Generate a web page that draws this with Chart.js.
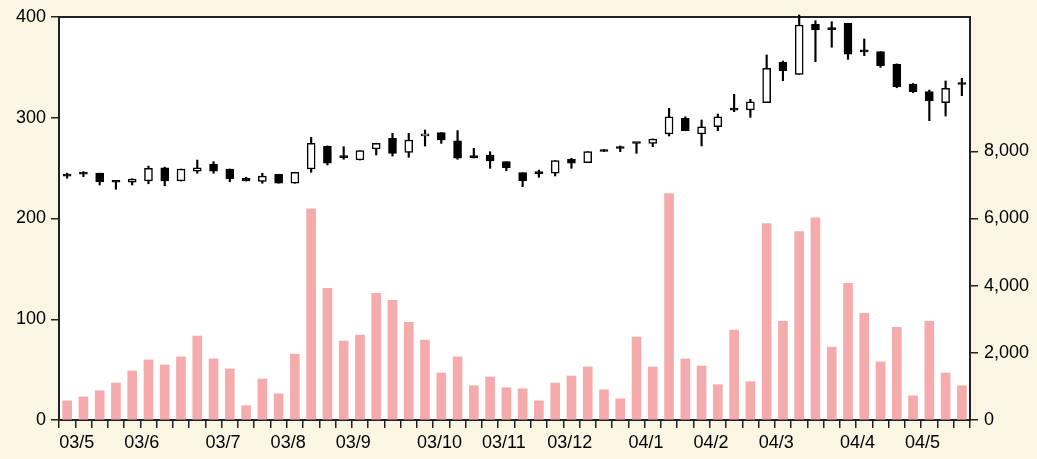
<!DOCTYPE html>
<html>
<head>
<meta charset="utf-8">
<script src="https://cdn.jsdelivr.net/npm/chart.js@4.4.1/dist/chart.umd.min.js"></script>
<style>
html, body { margin: 0; padding: 0; background: #faf6e3; }
#wrap { width: 1037px; height: 459px; }
</style>
</head>
<body>
<div id="wrap"><canvas id="myChart"></canvas></div>
<script>
// weekly candles, one per slot
let opens  = [242, 244, 245, 237, 236, 237.2, 250.4, 237.2, 247.1, 253.8, 249.1, 239.9, 236.9, 243.9, 235, 249.1,
              272, 261, 258.1, 269, 279.6, 265.7, 282, 285.2, 277.2, 261, 263, 256.4, 245.5, 244.5, 244.9, 258.8,
              255.4, 268.5, 269.5, 274.8, 274.6, 283.9, 299.4, 283.9, 291.1, 308, 307.7, 315, 355, 343.1,
              392.7, 388, 393.7, 365.8, 365.6, 353.1, 333.5, 325.9, 315, 333];
let highs  = [245, 246.5, 245, 237, 239.5, 252, 251, 249.1, 258, 256.4, 249.1, 240.9, 244.9, 243.9, 245.9, 280.6,
              272, 271.3, 267.3, 274.6, 284.6, 284.6, 287.8, 285.2, 287.2, 269.7, 266.3, 256.4, 245.5, 248.1, 257.4, 259.8,
              266.3, 268.5, 272, 275, 279, 309.4, 301, 297.8, 303.7, 323.3, 318.3, 362.3, 356.3, 402,
              396.3, 395.3, 393.7, 378.2, 365.6, 353.5, 334, 327.5, 336.5, 339.2];
let lows   = [240, 241.5, 233.3, 229, 233.3, 234.5, 232.5, 237.2, 244.9, 244.9, 236.5, 237.2, 235, 235, 235, 245.9,
              253.1, 258.8, 258.1, 263, 262, 260.7, 271.9, 274.6, 258.8, 260, 249.8, 247.4, 231.6, 240.9, 242.2, 249.8,
              255.4, 266.5, 266.3, 264.7, 271.3, 281.9, 287.1, 272, 287.1, 306, 300.4, 315, 336.8, 343.1,
              355.6, 370, 358, 361.6, 350, 329.8, 325, 297.1, 301.7, 321.9];
let closes = [243, 244.5, 236.5, 236, 239.2, 249.8, 237.2, 249.1, 250.4, 247.1, 239.2, 237.2, 242.2, 235, 245.9, 274.6,
              254.8, 260.5, 267.3, 274.6, 264.7, 277.9, 284, 277.9, 259.8, 260.5, 257.1, 250.4, 237.5, 245, 257.4, 254.8,
              266.3, 266.5, 270, 274.4, 278.9, 301, 287.1, 291.1, 301, 307.5, 315.9, 349, 346.7, 392,
              387.1, 387.5, 363, 365.4, 351.6, 330.8, 325.9, 316.9, 329.2, 334.5];
let volumes = [570, 690, 870, 1100, 1460, 1790, 1640, 1880, 2500, 1820, 1520, 425, 1220, 780, 1960, 6290,
               3920, 2350, 2530, 3770, 3560, 2910, 2380, 1400, 1880, 1020, 1280, 960, 930, 570, 1100, 1310,
               1580, 900, 630, 2470, 1580, 6740, 1820, 1610, 1050, 2680, 1140, 5850, 2940, 5610,
               6020, 2170, 4070, 3180, 1730, 2760, 720, 2940, 1400, 1020];
let monthLabels = ['03/5', '03/6', '03/7', '03/8', '03/9', '03/10', '03/11', '03/12', '04/1', '04/2', '04/3', '04/4', '04/5'];
let monthStart  = [0, 4, 9, 13, 17, 22, 26, 30, 35, 39, 43, 48, 52];

let categories = opens.map((o, i) => {
    let k = monthStart.indexOf(i);
    return k >= 0 ? monthLabels[k] : '';
});

let wicks = lows.map((l, i) => [l, highs[i]]);
let bodies = opens.map((o, i) => [o, closes[i]]);
// up = white, down = black, near-doji drawn as a plain black dash
let bodyColors = opens.map((o, i) => {
    if (Math.abs(closes[i] - o) <= 1.5) return '#000000';
    return closes[i] > o ? '#ffffff' : '#000000';
});

const frame = {
    id: 'frame',
    beforeDraw(chart) {
        let a = chart.chartArea, c = chart.ctx;
        c.save();
        c.fillStyle = '#ffffff';
        c.fillRect(a.left, a.top, a.right - a.left, a.bottom - a.top);
        c.restore();
    },
    beforeDatasetsDraw(chart) {
        let a = chart.chartArea, c = chart.ctx;
        c.save();
        c.strokeStyle = '#222';
        c.lineWidth = 2;
        c.strokeRect(a.left, a.top, a.right - a.left, a.bottom - a.top);
        c.restore();
    }
};

const font = { family: "'Liberation Sans', Arial, sans-serif", size: 18 };

var ctx = document.getElementById('myChart').getContext('2d');
var myChart = new Chart(ctx, {
    type: 'bar',
    data: {
        labels: categories,
        datasets: [{
            data: bodies,
            yAxisID: 'y',
            backgroundColor: bodyColors,
            borderColor: '#000',
            borderWidth: 1.5,
            borderSkipped: false,
            barThickness: 8,
            minBarLength: 2,
            grouped: false
        }, {
            data: wicks,
            yAxisID: 'y',
            backgroundColor: '#000',
            barThickness: 1.5,
            grouped: false,
            clip: false
        }, {
            data: volumes,
            yAxisID: 'y2',
            backgroundColor: '#f5abab',
            barThickness: 9,
            grouped: false
        }]
    },
    options: {
        responsive: true,
        maintainAspectRatio: false,
        animation: false,
        layout: { padding: { top: 17, left: 0, right: 0, bottom: 0 } },
        plugins: { legend: { display: false }, tooltip: { enabled: false } },
        scales: {
            x: {
                afterFit: s => { s.height = 39; },
                border: { display: false },
                grid: { offset: true, drawOnChartArea: false, color: '#222', lineWidth: 1.5, tickLength: 8 },
                ticks: {
                    autoSkip: false, maxRotation: 0, minRotation: 0,
                    align: 'start', labelOffset: -8, padding: 4,
                    color: '#000', font: font
                }
            },
            y: {
                position: 'left',
                min: 0, max: 400,
                afterFit: s => { s.width = 59; },
                border: { display: false },
                grid: { drawOnChartArea: false, color: '#222', lineWidth: 1.5, tickLength: 8 },
                ticks: { stepSize: 100, padding: 5, color: '#000', font: font }
            },
            y2: {
                position: 'right',
                min: 0, max: 12000,
                afterFit: s => { s.width = 67; },
                afterBuildTicks: s => { s.ticks = s.ticks.filter(t => t.value <= 8000); },
                border: { display: false },
                grid: { drawOnChartArea: false, color: '#222', lineWidth: 1.5, tickLength: 8 },
                ticks: { stepSize: 2000, padding: 6, color: '#000', font: font }
            }
        }
    },
    plugins: [frame]
});
</script>
</body>
</html>
